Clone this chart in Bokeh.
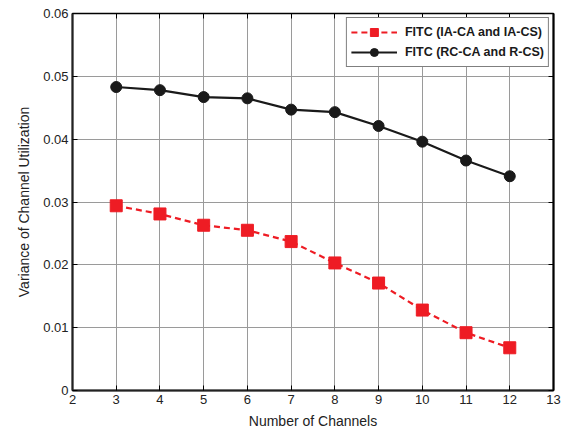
from bokeh.plotting import figure
from bokeh.embed import file_html
from bokeh.resources import INLINE
from bokeh.models import LinearAxis, CustomJSTickFormatter, FixedTicker, Range1d

channels = [3, 4, 5, 6, 7, 8, 9, 10, 11, 12]
fitc_ia = [0.0294, 0.0281, 0.0263, 0.0255, 0.0237, 0.0203, 0.0171, 0.0128, 0.0092, 0.0068]
fitc_rc = [0.0483, 0.0478, 0.0467, 0.0465, 0.0447, 0.0443, 0.0421, 0.0396, 0.0366, 0.0341]
x_ticks = list(range(2, 14))
y_ticks = [0, 0.01, 0.02, 0.03, 0.04, 0.05, 0.06]

FONT = "Liberation Sans"

p = figure(width=571, height=436, output_backend="svg", toolbar_location=None,
           x_range=Range1d(2, 13), y_range=Range1d(0, 0.06),
           min_border_left=72, min_border_right=18, min_border_top=13, min_border_bottom=46,
           x_axis_label="Number of Channels", y_axis_label="Variance of Channel Utilization")
p.outline_line_color = "black"
p.outline_line_width = 1.5
p.background_fill_color = "white"
p.border_fill_color = "white"

p.xaxis.ticker = FixedTicker(ticks=x_ticks)
p.yaxis.ticker = FixedTicker(ticks=y_ticks)
p.yaxis.formatter = CustomJSTickFormatter(code="return tick == 0 ? '0' : tick.toFixed(2);")

for ax in p.xaxis + p.yaxis:
    ax.major_tick_in = 5
    ax.major_tick_out = 0
    ax.minor_tick_line_color = None
    ax.axis_line_width = 2
    ax.axis_line_color = "#222222"
    ax.major_label_text_font = FONT
    ax.major_label_text_font_size = "13px"
    ax.major_label_text_color = "#222222"
    ax.axis_label_text_font = FONT
    ax.axis_label_text_font_size = "14px"
    ax.axis_label_text_font_style = "normal"
    ax.axis_label_text_color = "#222222"
    ax.major_label_standoff = 4
p.xaxis.axis_label_standoff = 6
p.yaxis.axis_label_standoff = 8

blank = CustomJSTickFormatter(code="return '';")
top = LinearAxis(ticker=FixedTicker(ticks=x_ticks), formatter=blank,
                 major_tick_in=5, major_tick_out=0, minor_tick_line_color=None,
                 axis_line_width=1, major_label_standoff=0)
right = LinearAxis(ticker=FixedTicker(ticks=y_ticks), formatter=blank,
                   major_tick_in=5, major_tick_out=0, minor_tick_line_color=None,
                   axis_line_width=2, major_label_standoff=0)
p.add_layout(top, "above")
p.add_layout(right, "right")

p.xgrid.ticker = FixedTicker(ticks=x_ticks)
p.ygrid.ticker = FixedTicker(ticks=y_ticks)
p.grid.grid_line_color = "#9a9a9a"
p.grid.grid_line_width = 1
p.grid.grid_line_alpha = 1.0

red = "#ee1c24"
p.line(channels, fitc_ia, line_color=red, line_width=2.2, line_dash="6 4",
       legend_label="FITC (IA-CA and IA-CS)")
p.scatter(channels, fitc_ia, marker="square", size=12, fill_color=red, line_color=red,
          legend_label="FITC (IA-CA and IA-CS)")
p.line(channels, fitc_rc, line_color="#1a1a1a", line_width=2.2,
       legend_label="FITC (RC-CA and R-CS)")
p.scatter(channels, fitc_rc, marker="circle", size=11, fill_color="#1a1a1a", line_color="#1a1a1a",
          legend_label="FITC (RC-CA and R-CS)")

lg = p.legend[0]
lg.location = "top_right"
lg.margin = 4
lg.padding = 4
lg.spacing = 0
lg.label_text_font = FONT
lg.label_text_font_size = "12.5px"
lg.label_text_font_style = "bold"
lg.label_text_color = "#1a1a1a"
lg.glyph_width = 46
lg.glyph_height = 20
lg.label_height = 20
lg.label_standoff = 8
lg.border_line_color = "black"
lg.border_line_width = 1
lg.background_fill_alpha = 1.0

open("out.html", "w").write(file_html(p, INLINE))
